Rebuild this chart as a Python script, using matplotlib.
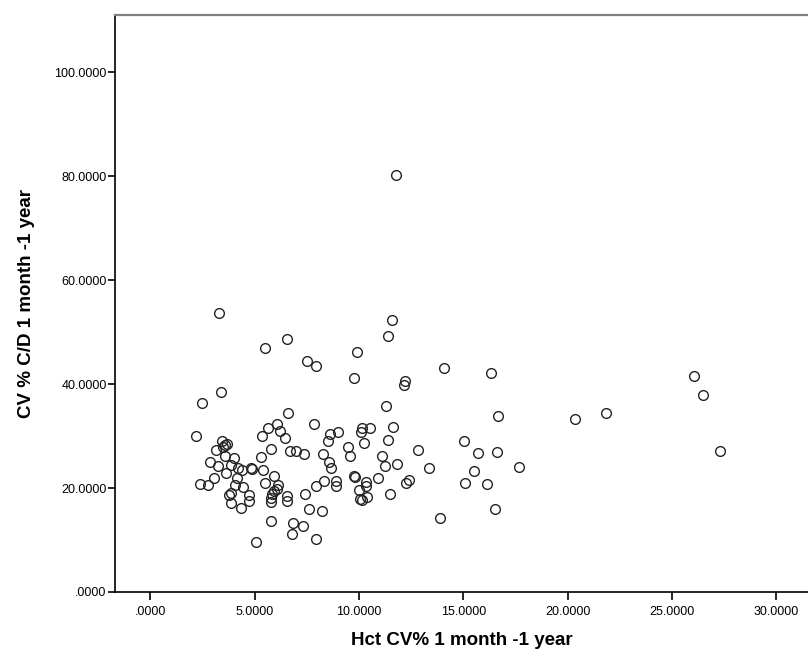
import matplotlib
matplotlib.use('Agg')
import matplotlib.pyplot as plt
from matplotlib.ticker import FuncFormatter

plt.rcParams['font.family'] = ['Liberation Sans', 'DejaVu Sans']

# Hct CV% (x) vs CV % C/D (y)
hct_cv = [
    2.16, 2.45, 3.27, 3.36, 3.41, 3.57, 3.67, 3.12, 3.46, 3.57,
    4.00, 2.83, 3.22, 3.86, 4.18, 4.37, 4.80, 4.85, 3.62, 3.06,
    4.16, 2.37, 2.78, 4.03, 4.42, 3.84, 3.77, 4.70, 4.72, 3.87,
    4.33,
    5.06, 5.36, 5.64, 6.07, 6.23, 6.43, 5.77, 5.29, 5.41, 5.93,
    5.48, 6.13, 6.05, 5.92, 5.84, 5.78, 5.76, 6.52, 6.54, 5.77,
    6.82, 7.31, 6.79, 7.93, 6.57, 5.50, 6.53, 6.68, 6.98,
    7.48, 7.93, 7.85, 7.38, 7.42, 7.59, 8.20, 7.92, 8.31, 8.25,
    8.54, 8.66, 8.58, 8.52, 9.00, 8.89, 8.91, 9.45, 9.55, 9.75,
    9.88, 9.77, 9.82,
    10.12, 10.09, 10.50, 10.25, 10.33, 10.35, 9.98, 10.36, 10.12, 10.04,
    10.92, 11.08, 11.22, 11.80, 11.38, 11.63, 11.28, 11.48, 11.40, 11.59,
    11.75, 12.21, 12.15, 12.24, 12.40, 12.82,
    13.34, 13.86, 14.06, 15.04, 15.07, 15.50, 15.68, 16.11, 16.32, 16.59,
    16.52, 16.67, 17.66, 20.34, 21.84, 26.04, 26.46, 27.30,
]
cd_cv = [
    30.1, 36.4, 53.65, 38.5, 29.1, 28.3, 28.4, 27.4, 27.8, 26.2,
    25.7, 25.1, 24.3, 24.4, 23.8, 23.5, 23.9, 23.6, 22.8, 22.0,
    21.9, 20.8, 20.5, 20.5, 20.2, 19.0, 18.7, 18.6, 17.6, 17.2,
    16.2,
    9.6, 30.1, 31.6, 32.35, 30.9, 29.65, 27.6, 26.0, 23.5, 22.4,
    20.9, 20.5, 19.8, 19.4, 18.8, 18.1, 17.4, 18.5, 17.6, 13.7,
    13.3, 12.7, 11.1, 10.2, 34.5, 47.0, 48.6, 27.1, 27.1,
    44.5, 43.4, 32.4, 26.5, 18.8, 16.0, 15.6, 20.4, 21.3, 26.6,
    25.1, 23.9, 30.3, 29.0, 30.8, 21.3, 20.3, 27.9, 26.1, 41.2,
    46.2, 22.4, 22.2,
    31.55, 30.8, 31.6, 28.7, 21.1, 20.4, 19.7, 18.2, 17.7, 17.9,
    21.9, 26.2, 24.3, 24.6, 29.2, 31.7, 35.8, 18.9, 49.3, 52.4,
    80.3, 40.6, 39.8, 21.0, 21.5, 27.4,
    23.8, 14.2, 43.0, 29.0, 21.0, 23.3, 26.7, 20.8, 42.1, 26.9,
    16.0, 33.8, 24.0, 33.3, 34.4, 41.5, 37.9, 27.2,
]

x_ticks = [0, 5, 10, 15, 20, 25, 30]
y_ticks = [0, 20, 40, 60, 80, 100]


def spss_fmt(v, pos=None):
    s = '%.4f' % v
    return s[1:] if s.startswith('0.') else s


fig = plt.figure(figsize=(8.08, 6.52), dpi=100)
ax = fig.add_axes([115 / 808, 60 / 652, 1 - 115 / 808, 577 / 652])

ax.plot(hct_cv, cd_cv, linestyle='none', marker='o', markersize=7,
        markerfacecolor='none', markeredgecolor='#222222', markeredgewidth=1.0)

ax.set_xlim(-1.70, 31.51)
ax.set_ylim(0, 111.0)
ax.set_xticks(x_ticks)
ax.set_yticks(y_ticks)
ax.xaxis.set_major_formatter(FuncFormatter(spss_fmt))
ax.yaxis.set_major_formatter(FuncFormatter(spss_fmt))
ax.tick_params(axis='both', direction='out', length=5, width=1.2,
               labelsize=9, colors='black')
ax.tick_params(axis='x', length=6, pad=4)
ax.tick_params(axis='y', pad=1)

ax.spines['right'].set_visible(False)
ax.spines['top'].set_color('#808080')
ax.spines['top'].set_linewidth(1.6)
ax.spines['left'].set_linewidth(1.2)
ax.spines['bottom'].set_linewidth(1.2)

ax.set_xlabel('Hct CV% 1 month -1 year', fontsize=13.5, fontweight='bold', labelpad=10)
ax.set_ylabel('CV % C/D 1 month -1 year', fontsize=13.5, fontweight='bold', labelpad=14)

fig.savefig('out.png', dpi=100)
